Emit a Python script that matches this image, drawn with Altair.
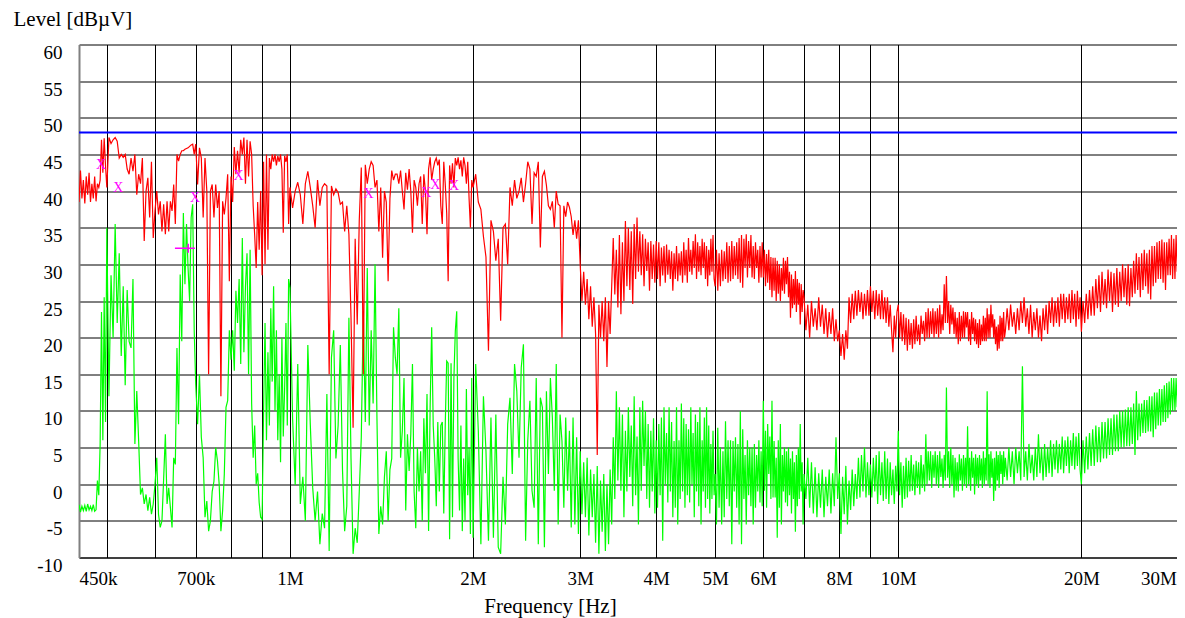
import altair as alt
import pandas as pd

# ---------------- sweep data (frequency in MHz, level in dBuV) ----------------
# 450 kHz - 1 MHz
freq_A = [
    0.4500, 0.4525, 0.4550, 0.4575, 0.4600, 0.4625, 0.4650, 0.4675, 0.4700, 0.4725,
    0.4750, 0.4775, 0.4800, 0.4825, 0.4850, 0.4875, 0.4900, 0.4925, 0.4950, 0.4975,
    0.500, 0.504, 0.508, 0.512, 0.516, 0.520, 0.524, 0.528, 0.532, 0.536,
    0.540, 0.544, 0.548, 0.552, 0.556, 0.560, 0.564, 0.568, 0.572, 0.576,
    0.580, 0.584, 0.588, 0.592, 0.596,
    0.600, 0.604, 0.608, 0.612, 0.616, 0.620, 0.624, 0.628, 0.632, 0.636,
    0.640, 0.644, 0.648, 0.652, 0.656, 0.660, 0.664, 0.668, 0.672, 0.676,
    0.680, 0.684, 0.688, 0.692, 0.696,
    0.700, 0.705, 0.710, 0.715, 0.720, 0.725, 0.730, 0.735, 0.740, 0.745,
    0.750, 0.755, 0.760, 0.765, 0.770, 0.775, 0.780, 0.785, 0.790, 0.795,
    0.800, 0.805, 0.810, 0.815, 0.820, 0.825, 0.830, 0.835, 0.840, 0.845,
    0.850, 0.855, 0.860, 0.865, 0.870, 0.875, 0.880, 0.885, 0.890, 0.895,
    0.900, 0.905, 0.910, 0.915, 0.920, 0.925, 0.930, 0.935, 0.940, 0.945,
    0.950, 0.955, 0.960, 0.965, 0.970, 0.975, 0.980, 0.985, 0.990, 0.995,
]
peak_A = [
    38.5, 42.8, 39.0, 41.5, 38.3, 42.0, 39.5, 42.5, 38.5, 41.0,
    39.0, 42.0, 38.6, 41.0, 40.5, 41.5, 47.0, 42.5, 47.2, 43.5,
    40.5, 47.3, 46.5, 47.0, 47.3, 46.8, 44.5, 45.0, 44.6, 45.0,
    43.0, 42.3, 44.5, 42.7, 45.0, 39.5, 42.3, 41.0, 44.5, 33.2,
    40.0, 41.8, 36.4, 44.0, 33.6,
    37.3, 40.0, 36.8, 38.6, 34.5, 38.2, 34.1, 38.6, 34.5, 38.6,
    37.3, 40.9, 35.5, 45.0, 44.1, 45.0, 45.5, 45.5, 45.7, 45.8,
    45.9, 46.1, 46.3, 46.4, 45.0,
    46.4, 40.9, 45.9, 44.5, 36.4, 44.5, 40.0, 15.0, 40.0, 40.9,
    36.4, 40.9, 37.7, 40.0, 12.0, 38.6, 36.8, 39.0, 42.3, 27.7,
    42.0, 38.5, 46.0, 42.3, 45.5, 42.5, 47.0, 45.0, 47.3, 41.0,
    47.0, 42.0, 46.8, 45.0, 38.0, 34.0, 29.5, 38.5, 32.0, 40.0,
    28.5, 44.0, 30.0, 45.0, 32.0, 44.5, 43.0, 45.0, 44.0, 45.0,
    43.5, 44.8, 44.0, 45.0, 43.0, 34.3, 44.8, 44.0, 45.0, 35.5,
]
avg_A = [
    -2.8, -3.8, -3.0, -3.6, -2.9, -3.7, -2.7, -3.5, -3.0, -3.6,
    -2.8, -3.7, -3.5, 0.5, -1.5, 5.5, 23.5, 6.0, 25.5, 8.5,
    35.0, 12.0, 28.5, 20.0, 35.5, 22.0, 31.5, 17.5, 27.0, 13.5,
    26.5, 19.5, 18.6, 28.0, 5.5, 12.7, 5.9, -1.4, -0.5, -2.7,
    -1.4, -3.6, -1.8, -4.1, -2.7,
    0.0, 3.6, -4.1, -5.9, -5.0, 0.8, 6.8, -2.7, -0.5, -3.2,
    -5.9, 3.6, 2.7, 18.6, 8.2, 28.6, 19.5, 37.0, 27.3, 35.5,
    29.5, 25.0, 36.4, 38.2, 21.0,
    13.6, 8.2, 15.0, 6.4, 3.6, -4.5, -2.3, -6.4, -5.0, -1.0,
    0.4, 5.0, 3.2, 0.0, -6.4, -3.6, 1.4, 10.5, 11.4, 21.0,
    17.0, 21.0, 15.5, 26.4, 22.0, 28.0, 16.4, 33.6, 18.0, 27.0,
    31.5, 15.0, 32.0, 11.0, 3.6, 8.0, 0.0, 1.5, -2.5, -4.5,
    -4.8, 10.0, 22.0, 6.0, 18.0, 8.0, 24.0, 14.0, 27.0, 10.0,
    21.0, 6.0, 15.0, 3.0, 20.0, 6.5, 13.0, 22.0, 8.0, 28.0,
]

# 1 MHz - 2 MHz
freq_B = [
    1.00, 1.01, 1.02, 1.03, 1.04, 1.05, 1.06, 1.07, 1.08, 1.09,
    1.10, 1.11, 1.12, 1.13, 1.14, 1.15, 1.16, 1.17, 1.18, 1.19,
    1.20, 1.21, 1.22, 1.23, 1.24, 1.25, 1.26, 1.27, 1.28, 1.29,
    1.30, 1.31, 1.32, 1.33, 1.34, 1.35, 1.36, 1.37, 1.38, 1.39,
    1.40, 1.41, 1.42, 1.43, 1.44, 1.45, 1.46, 1.47, 1.48, 1.49,
    1.50, 1.51, 1.52, 1.53, 1.54, 1.55, 1.56, 1.57, 1.58, 1.59,
    1.60, 1.61, 1.62, 1.63, 1.64, 1.65, 1.66, 1.67, 1.68, 1.69,
    1.70, 1.71, 1.72, 1.73, 1.74, 1.75, 1.76, 1.77, 1.78, 1.79,
    1.80, 1.81, 1.82, 1.83, 1.84, 1.85, 1.86, 1.87, 1.88, 1.89,
    1.90, 1.91, 1.92, 1.93, 1.94, 1.95, 1.96, 1.97, 1.98, 1.99,
]
peak_B = [
    40.5, 37.7, 40.0, 41.2, 39.5, 35.5, 41.0, 42.7, 40.5, 38.0,
    35.0, 41.5, 38.0, 40.5, 41.0, 40.7, 15.0, 40.7, 39.5, 40.3,
    39.8, 38.2, 38.5, 34.5, 38.0, 34.1, 22.7, 7.7, 33.5, 21.8,
    36.0, 43.2, 15.0, 43.6, 41.0, 43.0, 44.0, 43.5, 40.5, 41.5,
    34.5, 40.5, 30.9, 40.0, 38.5, 27.7, 39.0, 42.8, 41.5, 42.3,
    42.3, 41.0, 42.8, 40.0, 37.5, 42.5, 40.2, 43.0, 40.0, 34.3,
    41.5, 40.5, 38.0, 41.0, 42.0, 35.5, 42.3, 40.0, 34.1, 43.0,
    44.6, 41.5, 43.0, 44.0, 44.5, 43.5, 44.3, 38.0, 35.5, 44.0,
    41.0, 37.0, 27.7, 43.5, 41.0, 43.8, 40.5, 44.5, 43.5, 44.6,
    43.0, 44.2, 42.0, 44.6, 43.5, 41.0, 44.0, 39.0, 35.0, 41.5,
]
avg_B = [
    26.8, 9.0, -0.1, 16.4, -2.7, 1.0, -5.0, 19.0, 8.2, -0.5,
    -5.0, -1.0, -8.2, -4.0, -6.0, 12.3, -9.1, 17.3, 21.0, 3.5,
    8.0, 19.0, 2.0, -6.4, -3.0, 22.7, 3.5, -9.5, -6.0, -8.0,
    -1.0, 6.4, 23.6, 8.5, 29.5, 8.0, 21.0, 11.0, 30.0, 9.0,
    -6.8, -3.0, -5.5, 1.0, 4.5, -5.0, 2.0, 3.5, 21.4, 17.3,
    15.0, 24.0, 3.6, 7.3, 14.5, -3.6, 6.8, 1.8, 6.8, 16.4,
    -1.0, -6.0, 5.0, -1.0, 4.5, -5.0, 9.0, 1.5, 12.3, -6.4,
    10.5, 21.4, 8.0, 3.5, -3.0, 8.5, -1.0, 8.0, 8.5, -4.0,
    8.0, 16.8, 16.5, -7.5, 16.5, -4.5, 14.5, 20.9, 23.6, 3.5,
    -3.6, 8.0, -6.4, 3.5, -5.0, 13.0, -1.5, 5.0, -6.8, 14.5,
]

# 2 MHz - 3 MHz
freq_C = [
    2.00, 2.02, 2.04, 2.06, 2.08, 2.10, 2.12, 2.14, 2.16, 2.18,
    2.20, 2.22, 2.24, 2.26, 2.28, 2.30, 2.32, 2.34, 2.36, 2.38,
    2.40, 2.42, 2.44, 2.46, 2.48, 2.50, 2.52, 2.54, 2.56, 2.58,
    2.60, 2.62, 2.64, 2.66, 2.68, 2.70, 2.72, 2.74, 2.76, 2.78,
    2.80, 2.82, 2.84, 2.86, 2.88, 2.90, 2.92, 2.94, 2.96, 2.98,
]
peak_C = [
    40.5, 42.3, 38.5, 37.5, 33.8, 31.0, 18.2, 36.0, 34.5, 30.5,
    33.5, 22.3, 35.0, 35.5, 30.0, 40.5, 38.0, 41.5, 39.0, 40.0,
    41.8, 38.5, 41.0, 44.0, 43.0, 35.5, 42.5, 42.0, 44.0, 32.3,
    42.0, 42.7, 40.8, 38.0, 37.5, 38.6, 35.0, 40.0, 38.2, 38.0,
    20.0, 38.0, 36.5, 38.5, 37.8, 36.5, 34.0, 36.0, 33.5, 36.0,
]
avg_C = [
    -7.3, 16.4, 7.3, -8.2, 12.0, 4.5, -7.7, 9.1, -7.3, 9.5,
    -8.6, -9.5, 1.0, -5.5, 8.2, 11.8, 1.4, 16.4, 12.7, 3.6,
    15.9, 19.1, -7.7, 6.0, 11.4, -0.9, -3.2, 14.5, -8.2, 11.8,
    10.5, -8.6, 12.7, 1.4, 14.5, 9.1, -0.9, 16.4, -5.5, 9.5,
    5.9, -3.2, 9.1, -0.9, 7.3, -5.9, 9.1, -5.5, 6.4, -6.8,
]

# 3 MHz - 5 MHz
freq_D = [
    3.00, 3.02, 3.04, 3.06, 3.08, 3.10, 3.12, 3.14, 3.16, 3.18,
    3.20, 3.22, 3.24, 3.26, 3.28, 3.30, 3.32, 3.34, 3.36, 3.38,
    3.40, 3.42, 3.44, 3.46, 3.48, 3.50, 3.52, 3.54, 3.56, 3.58,
    3.60, 3.62, 3.64, 3.66, 3.68, 3.70, 3.72, 3.74, 3.76, 3.78,
    3.80, 3.82, 3.84, 3.86, 3.88, 3.90, 3.92, 3.94, 3.96, 3.98,
    4.00, 4.02, 4.04, 4.06, 4.08, 4.10, 4.12, 4.14, 4.16, 4.18,
    4.20, 4.22, 4.24, 4.26, 4.28, 4.30, 4.32, 4.34, 4.36, 4.38,
    4.40, 4.42, 4.44, 4.46, 4.48, 4.50, 4.52, 4.54, 4.56, 4.58,
    4.60, 4.62, 4.64, 4.66, 4.68, 4.70, 4.72, 4.74, 4.76, 4.78,
    4.80, 4.82, 4.84, 4.86, 4.88, 4.90, 4.92, 4.94, 4.96, 4.98,
]
peak_D = [
    30.0, 25.0, 29.0, 24.5, 28.0, 22.5, 27.0, 21.5, 25.5, 20.5,
    4.0, 24.5, 20.0, 25.0, 19.5, 25.5, 16.0, 25.0, 20.5, 27.0,
    33.6, 25.9, 32.0, 24.1, 34.0, 23.2, 33.0, 25.0, 35.9, 27.0,
    35.0, 26.5, 34.5, 24.6, 35.5, 28.0, 36.4, 29.0, 34.5, 28.5,
    34.1, 27.0, 33.5, 29.1, 33.0, 26.4, 33.2, 28.0, 32.7, 27.5,
    33.2, 28.0, 33.0, 27.0, 32.3, 28.5, 32.5, 27.5, 32.7, 28.6,
    32.0, 28.0, 31.8, 26.4, 31.5, 28.0, 32.5, 27.7, 31.5, 28.5,
    31.8, 27.5, 33.0, 28.5, 32.0, 27.5, 33.6, 29.0, 32.0, 28.6,
    33.2, 29.5, 34.1, 28.0, 33.0, 29.0, 32.5, 28.5, 33.5, 29.5,
    33.0, 28.0, 32.5, 27.0, 32.0, 28.5, 33.5, 29.0, 34.0, 28.0,
]
avg_D = [
    4.5, -4.1, 3.0, -4.5, 3.6, -7.0, 2.0, -4.5, 1.4, -8.0,
    2.5, -9.5, 0.5, -6.5, 1.4, -9.1, 0.0, -8.2, 2.0, -5.5,
    6.4, -2.0, 12.7, 0.5, 10.5, -0.9, 9.5, -4.5, 7.3, -1.0,
    10.5, 1.0, 8.0, -3.0, 12.0, -1.5, 6.5, -5.5, 10.5, -0.9,
    11.4, 2.5, 10.0, -2.0, 8.2, -3.2, 7.3, -1.0, 9.0, -4.0,
    6.0, -3.2, 8.2, -1.5, 9.1, -7.7, 10.5, 0.0, 7.0, -2.5,
    10.5, -1.0, 8.5, -4.5, 5.9, -3.2, 10.5, -5.5, 6.0, -2.0,
    11.0, -1.0, 9.0, -3.2, 8.2, -1.5, 7.5, -2.5, 10.5, 0.0,
    7.0, -4.5, 9.5, -1.0, 8.5, -3.0, 10.5, -5.5, 6.0, -1.0,
    9.1, -3.2, 10.5, -2.0, 8.0, -4.0, 5.5, -2.0, 7.3, -1.5,
]

# 5 MHz - 10 MHz
freq_E = [
    5.000, 5.025, 5.050, 5.075, 5.100, 5.125, 5.150, 5.175, 5.200, 5.225,
    5.250, 5.275, 5.300, 5.325, 5.350, 5.375, 5.400, 5.425, 5.450, 5.475,
    5.500, 5.525, 5.550, 5.575, 5.600, 5.625, 5.650, 5.675, 5.700, 5.725,
    5.750, 5.775, 5.800, 5.825, 5.850, 5.875, 5.900, 5.925, 5.950, 5.975,
    6.000, 6.025, 6.050, 6.075, 6.100, 6.125, 6.150, 6.175, 6.200, 6.225,
    6.250, 6.275, 6.300, 6.325, 6.350, 6.375, 6.400, 6.425, 6.450, 6.475,
    6.500, 6.525, 6.550, 6.575, 6.600, 6.625, 6.650, 6.675, 6.700, 6.725,
    6.750, 6.775, 6.800, 6.825, 6.850, 6.875, 6.900, 6.925, 6.950, 6.975,
    7.00, 7.05, 7.10, 7.15, 7.20, 7.25, 7.30, 7.35, 7.40, 7.45,
    7.50, 7.55, 7.60, 7.65, 7.70, 7.75, 7.80, 7.85, 7.90, 7.95,
    8.00, 8.05, 8.10, 8.15, 8.20, 8.25, 8.30, 8.35, 8.40, 8.45,
    8.50, 8.55, 8.60, 8.65, 8.70, 8.75, 8.80, 8.85, 8.90, 8.95,
    9.00, 9.05, 9.10, 9.15, 9.20, 9.25, 9.30, 9.35, 9.40, 9.45,
    9.50, 9.55, 9.60, 9.65, 9.70, 9.75, 9.80, 9.85, 9.90, 9.95,
]
peak_E = [
    27.0, 32.0, 26.4, 31.5, 27.0, 32.0, 27.7, 31.8, 28.0, 33.0,
    27.5, 32.5, 27.7, 33.2, 28.0, 32.5, 28.5, 33.0, 28.0, 33.6,
    27.5, 34.0, 26.8, 33.5, 29.5, 34.1, 28.2, 33.2, 29.5, 34.0,
    28.2, 32.5, 28.0, 33.0, 29.5, 32.0, 27.5, 32.5, 28.2, 33.0,
    28.2, 32.0, 27.0, 31.4, 27.5, 32.0, 26.5, 31.0, 25.5, 30.9,
    26.4, 30.9, 25.0, 30.5, 26.0, 30.0, 25.0, 29.5, 26.4, 30.9,
    26.0, 30.5, 27.3, 31.0, 25.5, 29.0, 22.7, 28.6, 24.0, 28.0,
    24.5, 29.1, 23.5, 28.0, 24.5, 27.5, 21.8, 27.3, 23.5, 26.5,
    25.5, 21.0, 24.5, 20.0, 25.0, 21.5, 24.0, 21.0, 25.5, 21.5,
    24.5, 20.5, 24.0, 20.0, 23.5, 20.5, 24.0, 19.5, 22.5, 19.5,
    21.0, 17.5, 20.5, 17.0, 21.0, 18.5, 25.5, 22.0, 26.0, 22.5,
    26.4, 23.0, 26.5, 23.5, 26.2, 22.5, 26.0, 23.0, 26.5, 23.0,
    27.0, 23.5, 26.4, 22.5, 26.5, 23.0, 26.0, 22.5, 26.5, 22.5,
    25.5, 22.0, 25.5, 21.5, 24.5, 21.0, 18.0, 23.0, 20.0, 23.5,
]
avg_E = [
    1.4, -5.5, 7.7, -3.2, 5.0, -5.5, 4.5, -4.5, 8.6, -2.0,
    6.0, -3.0, 6.0, -8.2, 5.9, -1.0, 6.4, -3.2, 5.5, -5.5,
    10.0, -8.2, 7.5, -2.0, 4.0, -5.5, 6.0, -1.5, 5.0, -3.0,
    5.0, -5.5, 5.5, -3.2, 4.0, -1.0, 6.0, -2.5, 4.5, -3.0,
    11.4, -0.9, 7.3, -3.2, 8.2, 1.4, 6.5, -2.0, 11.4, -1.8,
    5.9, -1.8, 3.6, -7.3, 6.0, -3.2, 8.2, -5.5, 4.0, -1.0,
    5.0, -2.5, 4.5, -3.0, 5.0, -1.5, 3.5, -4.0, 4.5, -2.0,
    3.0, -6.5, 4.0, -3.0, 5.0, -2.0, 8.2, -1.0, 3.0, -5.5,
    1.4, -2.0, 3.6, -3.2, 3.0, -4.0, 2.3, -4.5, 1.5, -3.2,
    2.0, -4.5, 1.0, -3.0, 2.0, -4.0, 1.5, -3.0, 6.4, -2.0,
    1.5, -6.8, 1.0, -4.1, 2.5, -5.5, 0.5, -3.5, 2.0, -3.0,
    1.4, -2.0, 3.6, -1.8, 4.0, -1.0, 5.0, -1.8, 3.0, -1.5,
    2.7, -1.8, 3.6, -1.0, 4.0, -2.7, 4.5, -1.5, 3.0, -2.3,
    4.5, -2.0, 3.5, -2.7, 3.0, -1.5, 2.0, -2.7, 2.5, -1.0,
]

# 10 MHz - 20 MHz
freq_F = [
    10.00, 10.05, 10.10, 10.15, 10.20, 10.25, 10.30, 10.35, 10.40, 10.45,
    10.50, 10.55, 10.60, 10.65, 10.70, 10.75, 10.80, 10.85, 10.90, 10.95,
    11.00, 11.05, 11.10, 11.15, 11.20, 11.25, 11.30, 11.35, 11.40, 11.45,
    11.50, 11.55, 11.60, 11.65, 11.70, 11.75, 11.80, 11.85, 11.90, 11.95,
    12.00, 12.05, 12.10, 12.15, 12.20, 12.25, 12.30, 12.35, 12.40, 12.45,
    12.50, 12.55, 12.60, 12.65, 12.70, 12.75, 12.80, 12.85, 12.90, 12.95,
    13.00, 13.05, 13.10, 13.15, 13.20, 13.25, 13.30, 13.35, 13.40, 13.45,
    13.50, 13.55, 13.60, 13.65, 13.70, 13.75, 13.80, 13.85, 13.90, 13.95,
    14.00, 14.05, 14.10, 14.15, 14.20, 14.25, 14.30, 14.35, 14.40, 14.45,
    14.50, 14.55, 14.60, 14.65, 14.70, 14.75, 14.80, 14.85, 14.90, 14.95,
    15.0, 15.1, 15.2, 15.3, 15.4, 15.5, 15.6, 15.7, 15.8, 15.9,
    16.0, 16.1, 16.2, 16.3, 16.4, 16.5, 16.6, 16.7, 16.8, 16.9,
    17.0, 17.1, 17.2, 17.3, 17.4, 17.5, 17.6, 17.7, 17.8, 17.9,
    18.0, 18.1, 18.2, 18.3, 18.4, 18.5, 18.6, 18.7, 18.8, 18.9,
    19.0, 19.1, 19.2, 19.3, 19.4, 19.5, 19.6, 19.7, 19.8, 19.9,
]
peak_F = [
    24.5, 20.0, 23.5, 19.5, 23.2, 19.0, 22.7, 18.2, 22.5, 19.0,
    22.0, 18.5, 22.5, 19.1, 23.0, 19.5, 21.8, 19.0, 23.0, 20.5,
    22.3, 19.5, 23.5, 20.0, 24.0, 20.0, 23.6, 20.5, 24.0, 20.0,
    23.6, 20.5, 24.0, 20.0, 24.5, 20.5, 23.2, 21.0, 27.3, 22.0,
    28.4, 22.0, 25.0, 20.5, 24.5, 21.8, 24.1, 20.5, 23.5, 20.0,
    22.7, 19.1, 23.5, 19.5, 23.0, 20.0, 23.6, 20.0, 23.5, 21.4,
    23.5, 19.5, 22.5, 19.0, 23.5, 20.5, 22.7, 19.5, 22.5, 19.1,
    22.0, 18.6, 22.5, 19.0, 21.8, 19.5, 23.0, 19.5, 22.7, 19.5,
    24.0, 20.0, 23.2, 20.0, 24.5, 21.4, 23.2, 20.0, 22.5, 19.1,
    21.5, 18.2, 21.8, 18.5, 23.0, 19.5, 22.7, 19.5, 23.5, 20.0,
    20.9, 24.0, 21.0, 24.5, 21.5, 23.5, 20.5, 24.0, 21.0, 25.0,
    22.0, 25.5, 21.5, 24.0, 20.5, 24.5, 20.0, 23.5, 21.0, 24.0,
    20.0, 23.0, 19.5, 24.0, 21.0, 24.5, 20.5, 25.0, 22.0, 25.5,
    21.5, 25.0, 22.0, 25.5, 21.5, 26.0, 22.5, 26.0, 22.0, 25.5,
    22.5, 26.0, 22.0, 26.5, 22.5, 26.0, 21.5, 26.4, 22.5, 25.5,
]
avg_F = [
    7.3, -1.5, 3.0, -3.2, 2.5, -2.0, 3.6, -1.8, 3.2, -1.0,
    4.0, -0.9, 2.7, -1.5, 3.2, -0.5, 3.0, -1.4, 4.0, -0.5,
    2.7, -1.0, 6.8, 0.0, 4.5, 0.5, 4.5, -0.5, 4.0, 0.9,
    4.5, 0.0, 4.0, -0.5, 4.5, 1.0, 3.5, -0.5, 4.0, 0.5,
    13.2, 0.9, 4.5, -0.5, 5.0, 0.0, 4.0, -1.8, 3.6, -0.9,
    3.0, -1.0, 4.1, 0.5, 3.5, -0.9, 4.0, 0.0, 3.6, -0.5,
    7.9, 0.0, 3.6, -0.9, 4.5, 0.9, 3.6, -1.4, 4.1, 0.0,
    3.6, -0.5, 4.0, 0.5, 3.5, -0.5, 4.5, 0.0, 3.6, 0.5,
    12.7, 0.0, 4.1, -0.5, 4.5, 0.9, 3.5, -2.3, 3.6, -0.9,
    4.5, 0.5, 4.0, -0.5, 4.5, 1.4, 4.0, 0.0, 4.5, 1.0,
    3.6, 0.5, 5.0, 1.0, 4.5, 0.0, 5.0, 1.5, 4.5, 0.5,
    16.1, 1.0, 4.5, 0.5, 5.5, 1.5, 4.0, 0.5, 5.0, 1.0,
    6.8, 1.5, 5.0, 0.5, 5.5, 1.0, 5.0, 1.5, 6.0, 1.0,
    5.5, 2.0, 6.0, 1.5, 5.5, 2.0, 6.5, 1.5, 6.0, 2.5,
    6.5, 1.5, 6.0, 2.5, 7.0, 2.0, 6.5, 2.5, 7.0, 2.0,
]

# 20 MHz - 30 MHz
freq_G = [
    20.000, 20.125, 20.250, 20.375, 20.500, 20.625, 20.750, 20.875, 21.000, 21.125,
    21.250, 21.375, 21.500, 21.625, 21.750, 21.875, 22.000, 22.125, 22.250, 22.375,
    22.500, 22.625, 22.750, 22.875, 23.000, 23.125, 23.250, 23.375, 23.500, 23.625,
    23.750, 23.875, 24.000, 24.125, 24.250, 24.375, 24.500, 24.625, 24.750, 24.875,
    25.000, 25.125, 25.250, 25.375, 25.500, 25.625, 25.750, 25.875, 26.000, 26.125,
    26.250, 26.375, 26.500, 26.625, 26.750, 26.875, 27.000, 27.125, 27.250, 27.375,
    27.500, 27.625, 27.750, 27.875, 28.000, 28.125, 28.250, 28.375, 28.500, 28.625,
    28.750, 28.875, 29.000, 29.125, 29.250, 29.375, 29.500, 29.625, 29.750, 29.875,
    30.000,
]
peak_G = [
    20.8, 25.0, 22.0, 26.0, 22.5, 26.5, 23.0, 27.0, 23.0, 28.0,
    24.0, 28.5, 23.5, 29.0, 24.5, 28.0, 24.0, 29.3, 25.0, 29.0,
    23.5, 28.8, 24.5, 29.5, 24.2, 29.0, 25.0, 30.0, 25.5, 29.5,
    24.5, 30.0, 24.3, 29.5, 25.5, 30.5, 26.0, 31.5, 26.5, 31.0,
    25.5, 31.5, 26.5, 32.0, 27.0, 31.5, 26.0, 32.0, 25.2, 32.5,
    27.0, 32.5, 27.5, 33.0, 28.0, 33.2, 28.0, 33.4, 27.5, 33.0,
    26.5, 33.0, 28.5, 33.5, 28.5, 34.0, 28.0, 33.5, 28.0, 34.0,
    29.0, 34.5, 29.0, 34.5, 29.5, 34.8, 29.0, 35.0, 29.5, 34.8,
    30.0,
]
avg_G = [
    0.0, 6.0, 1.5, 6.5, 2.0, 7.0, 2.5, 7.5, 2.5, 8.0,
    3.0, 7.8, 3.0, 8.5, 3.5, 8.5, 3.5, 9.0, 4.0, 9.0,
    4.0, 9.5, 4.5, 9.5, 4.5, 10.0, 5.0, 10.0, 5.0, 10.2,
    5.2, 10.5, 5.2, 10.5, 5.5, 11.0, 4.0, 12.7, 6.0, 11.0,
    6.5, 11.0, 7.0, 11.5, 7.0, 11.5, 7.2, 12.0, 7.2, 12.0,
    6.4, 12.5, 7.5, 12.5, 8.0, 13.0, 8.0, 13.0, 8.5, 13.5,
    8.5, 13.8, 9.0, 14.0, 9.5, 14.5, 10.0, 14.5, 10.0, 14.5,
    10.5, 15.0, 10.5, 15.0, 11.0, 15.0, 11.0, 15.0, 11.5, 15.0,
    11.5,
]

# limit line and detector markers
limit_level = [48]
peak_marker_freq = [0.489, 0.522, 0.698, 0.823, 1.346, 1.676, 1.733, 1.861]
peak_marker_level = [43.6, 40.4, 39.0, 42.0, 39.6, 39.8, 40.8, 40.7]
avg_marker_freq = [0.672]
avg_marker_level = [32.2]

# axis ticks
x_grid = [0.45, 0.5, 0.6, 0.7, 0.8, 0.9, 1, 2, 3, 4, 5, 6, 7, 8, 9, 10, 20, 30]
x_labelled_khz = [450, 700, 1000, 2000, 3000, 4000, 5000, 6000, 8000, 10000, 20000, 30000]
y_ticks = list(range(-10, 65, 5))

segments = [
    ("A", freq_A, peak_A, avg_A), ("B", freq_B, peak_B, avg_B),
    ("C", freq_C, peak_C, avg_C), ("D", freq_D, peak_D, avg_D),
    ("E", freq_E, peak_E, avg_E), ("F", freq_F, peak_F, avg_F),
    ("G", freq_G, peak_G, avg_G),
]
freq, peak, avg = [], [], []
for name, a, b, c in segments:
    assert len(a) == len(b) == len(c), (name, len(a), len(b), len(c))
    freq += a
    peak += b
    avg += c

df_peak = pd.DataFrame({"f": freq, "v": peak})
df_avg = pd.DataFrame({"f": freq, "v": avg})
df_limit = pd.DataFrame({"v": limit_level})
df_pm = pd.DataFrame({"f": peak_marker_freq, "v": peak_marker_level})
df_am = pd.DataFrame({"f": avg_marker_freq, "v": avg_marker_level})

FONT = "Liberation Serif"
PLOT_W = 1098          # visible plot width (page is cut at the right, as in the original)
RANGE_W = 1109.5       # 30 MHz sits just beyond the visible edge

label_expr = (
    "indexof([" + ",".join(str(k) for k in x_labelled_khz) + "], round(datum.value*1000)) < 0 ? '' : "
    "(datum.value < 1 ? round(datum.value*1000) + 'k' : round(datum.value) + 'M')"
)

x_enc = alt.X(
    "f:Q",
    scale=alt.Scale(type="log", domain=[0.45, 30], range=[0, RANGE_W], nice=False),
    axis=alt.Axis(
        values=x_grid, labelExpr=label_expr, grid=True, gridColor="#000000",
        gridWidth=1, gridOpacity=1, ticks=False, domain=True, domainColor="#000000",
        domainWidth=1, labelFont=FONT, labelFontSize=19, labelColor="#000000",
        labelPadding=12, labelFlush=True, labelOverlap=False, labelBound=False,
        labelOffset={"condition": {"test": "datum.value >= 29", "value": -12}, "value": 0},
        title="Frequency [Hz]", titleFont=FONT, titleFontSize=21,
        titleFontWeight="normal", titleColor="#000000", titleX=471, titleY=55,
        titleAlign="center", titleBaseline="alphabetic",
    ),
)
y_enc = alt.Y(
    "v:Q",
    scale=alt.Scale(domain=[-10, 60], nice=False, zero=False),
    axis=alt.Axis(
        values=y_ticks, labelExpr="'' + datum.value", grid=True, gridColor="#000000",
        gridWidth=1, gridOpacity=1, ticks=False, domain=True, domainColor="#808080",
        domainWidth=2, labelFont=FONT, labelFontSize=19, labelColor="#000000",
        labelPadding=17, labelOffset=8, labelAlign="right", labelBaseline="middle",
        labelOverlap=False, labelFlush=False,
        title="Level [dBµV]", titleFont=FONT, titleFontSize=21, titleFontWeight="normal",
        titleColor="#000000", titleAngle=0, titleAlign="left", titleBaseline="alphabetic",
        titleX=-66, titleY=-19,
    ),
)

limit = alt.Chart(df_limit).mark_rule(color="#0000FF", strokeWidth=2).encode(y=y_enc)
avg_line = alt.Chart(df_avg).mark_line(color="#00FF00", strokeWidth=1.2, clip=True).encode(
    x=x_enc, y=y_enc, order="f:Q")
peak_line = alt.Chart(df_peak).mark_line(color="#FF0000", strokeWidth=1.2, clip=True).encode(
    x=x_enc, y=y_enc, order="f:Q")
peak_marks = alt.Chart(df_pm).mark_text(
    text="X", font=FONT, fontSize=14, color="#FF00FF", align="center", baseline="middle"
).encode(x=x_enc, y=y_enc)
avg_marks = alt.Chart(df_am).mark_point(
    shape="M-1,0L1,0M0.33,-0.45L0.33,0.45", size=400, filled=False,
    color="#FF00FF", strokeWidth=1.5, opacity=1
).encode(x=x_enc, y=y_enc)

chart = (
    alt.layer(limit, avg_line, peak_line, peak_marks, avg_marks)
    .properties(
        width=PLOT_W, height=513,
        autosize=alt.AutoSizeParams(type="none"),
        padding={"left": 71, "top": 36.5, "right": 0, "bottom": 60},
        background="white",
    )
    .configure_view(strokeWidth=0)
)

chart.save("out.html", embed_options={"renderer": "svg", "actions": False})
